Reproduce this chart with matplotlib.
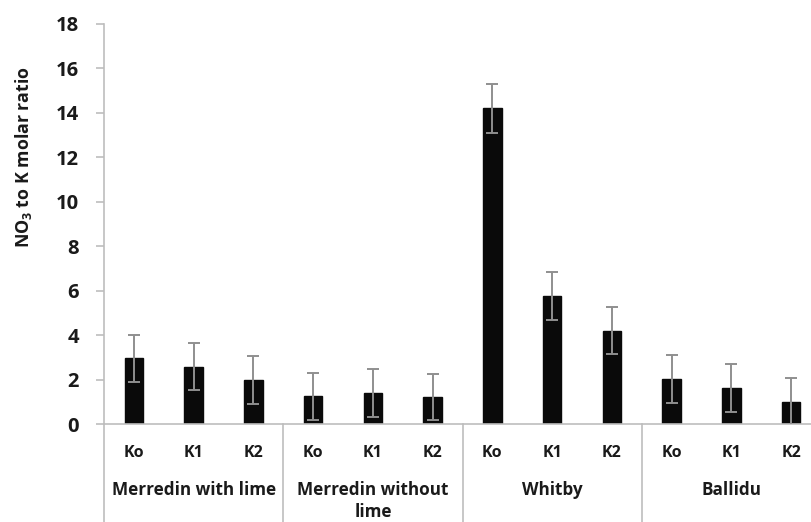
import matplotlib
matplotlib.use("Agg")
import matplotlib.pyplot as plt
import matplotlib.transforms as mtransforms

# Data
sites = ["Merredin with lime", "Merredin without\nlime", "Whitby", "Ballidu"]
treatments = ["Ko", "K1", "K2"]
ratios = [
    [2.95, 2.57, 1.97],   # Merredin with lime
    [1.25, 1.40, 1.22],   # Merredin without lime
    [14.20, 5.78, 4.20],  # Whitby
    [2.02, 1.60, 0.97],   # Ballidu
]
errors = [
    [1.07, 1.06, 1.09],
    [1.05, 1.08, 1.05],
    [1.10, 1.08, 1.07],
    [1.07, 1.08, 1.08],
]
yticks = [0, 2, 4, 6, 8, 10, 12, 14, 16, 18]

plt.rcParams["font.family"] = ["Open Sans", "DejaVu Sans"]
plt.rcParams["font.weight"] = "bold"

W, H = 811, 522
fig = plt.figure(figsize=(W / 100, H / 100), dpi=100)
left_px, right_px, top_px, bot_px = 104, 821, 24, 424
ax = fig.add_axes([left_px / W, 1 - bot_px / H,
                   (right_px - left_px) / W, (bot_px - top_px) / H])

axis_gray = "#bdbdbd"
text_col = "#1a1a1a"

values, errs, labels = [], [], []
for g in range(len(sites)):
    for t in range(len(treatments)):
        values.append(ratios[g][t])
        errs.append(errors[g][t])
        labels.append(treatments[t])
x = [i + 0.5 for i in range(len(values))]

ax.bar(x, values, width=0.31, color="#0a0a0a", edgecolor="#0a0a0a", zorder=2)
ax.errorbar(x, values, yerr=errs, fmt="none", ecolor="#8f8f8f",
            elinewidth=1.4, capsize=4, capthick=1.4, zorder=3)

ax.set_xlim(0, len(values))
ax.set_ylim(0, 18)
ax.set_yticks(yticks)
ax.set_xticks(x)
ax.set_xticklabels(labels)

for s in ["top", "right"]:
    ax.spines[s].set_visible(False)
for s in ["left", "bottom"]:
    ax.spines[s].set_color(axis_gray)
    ax.spines[s].set_linewidth(1.2)

ax.tick_params(axis="y", direction="out", length=6, color=axis_gray, width=1.2,
               labelsize=14.5, labelcolor=text_col, pad=12)
ax.tick_params(axis="x", length=0, labelsize=11.5, labelcolor=text_col, pad=15)

ax.set_ylabel(r"NO$_\mathregular{3}$ to K molar ratio", fontsize=12.8,
              fontweight="bold", color=text_col)
ax.yaxis.set_label_coords(-0.098, 0.667)

# Group separators below the axis and group names
trans = mtransforms.blended_transform_factory(ax.transData, ax.transAxes)
for g in range(len(sites) + 1):
    ax.plot([g * 3, g * 3], [0, -0.26], transform=trans, color=axis_gray,
            lw=1.2, clip_on=False)
for g, name in enumerate(sites):
    ax.text(g * 3 + 1.5, -0.143, name, transform=trans, ha="center", va="top",
            multialignment="center", fontsize=12.3, fontweight="bold",
            color=text_col, linespacing=1.3)

fig.savefig("out.png", dpi=100)
